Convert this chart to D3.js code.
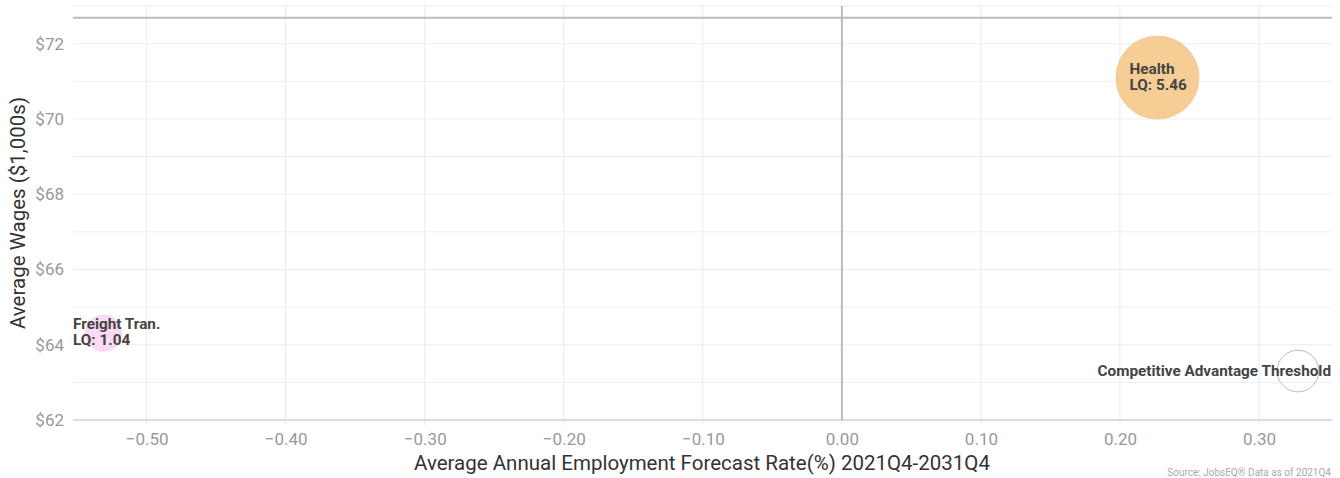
<!DOCTYPE html>
<html><head><meta charset="utf-8">
<script src="https://cdn.jsdelivr.net/npm/d3@7/dist/d3.min.js"></script>
<style>body{margin:0;background:#fff;font-family:Roboto,sans-serif;}</style>
</head><body><svg id="c" width="1340" height="478"></svg>
<script>
const names = ["Health", "Freight Tran."];
const growth = [0.227, -0.531];
const wages = [71.1, 64.31];
const lq = [5.46, 1.04];
const colors = ["#f5c98a", "#fbd6f4"];
const threshold = {label: "Competitive Advantage Threshold", x: 0.328, y: 63.3, lq: 1};
const avgWage = 72.69;
const xTicks = [-0.5, -0.4, -0.3, -0.2, -0.1, 0, 0.1, 0.2, 0.3];
const yTicks = [62, 64, 66, 68, 70, 72];
const yMinor = [63, 65, 67, 69, 71, 73];

const svg = d3.select("#c");
const L = 73, R = 1332, T = 6, B = 420;
const x = d3.scaleLinear().domain([-0.553, 0.3525]).range([L, R]);
const y = d3.scaleLinear().domain([62, 73]).range([B, T]);
const r = d3.scaleSqrt().domain([0, 1]).range([0, 17.8]);

svg.append("g").selectAll("line").data(yTicks.concat(yMinor)).join("line")
  .attr("x1", L).attr("x2", R).attr("y1", d => y(d)).attr("y2", d => y(d))
  .attr("stroke", "#eeeeee").attr("stroke-width", 1);
svg.append("g").selectAll("line").data(xTicks).join("line")
  .attr("x1", d => x(d)).attr("x2", d => x(d)).attr("y1", T).attr("y2", B + 5)
  .attr("stroke", "#e8eaf2").attr("stroke-width", 1);

const xa = svg.append("g").attr("transform", `translate(0,${B})`)
  .call(d3.axisBottom(x).tickValues(xTicks).tickFormat(d3.format(".2f")).tickSize(0).tickPadding(13));
xa.select(".domain").remove();
xa.selectAll("text").attr("fill", "#999").style("font-size", "17px").style("font-family", "Roboto");
svg.append("line").attr("x1", L).attr("x2", R).attr("y1", B).attr("y2", B)
  .attr("stroke", "#d6daea").attr("stroke-width", 2);

const ya = svg.append("g").attr("transform", `translate(${L},0)`)
  .call(d3.axisLeft(y).tickValues(yTicks).tickFormat(d => "$" + d).tickSize(0).tickPadding(9));
ya.select(".domain").remove();
ya.selectAll("text").attr("fill", "#999").style("font-size", "17px").style("font-family", "Roboto");

svg.append("line").attr("x1", x(0)).attr("x2", x(0)).attr("y1", T).attr("y2", B)
  .attr("stroke", "#bbbbbb").attr("stroke-width", 2);
svg.append("line").attr("x1", L).attr("x2", R).attr("y1", y(avgWage)).attr("y2", y(avgWage))
  .attr("stroke", "#bbbbbb").attr("stroke-width", 2);

const data = names.map((n, i) => ({n, gx: growth[i], w: wages[i], lq: lq[i], c: colors[i]}));
svg.append("g").selectAll("circle").data(data).join("circle")
  .attr("cx", d => x(d.gx)).attr("cy", d => y(d.w)).attr("r", d => r(d.lq))
  .attr("fill", d => d.c).attr("fill-opacity", 0.9)
  .attr("stroke", d => d3.color(d.c).darker(0.2)).attr("stroke-opacity", 0.5);

svg.append("circle").attr("cx", x(threshold.x)).attr("cy", y(threshold.y)).attr("r", r(threshold.lq) + 3)
  .attr("fill", "none").attr("stroke", "#bbb").attr("stroke-width", 1);

const lab = svg.append("g").style("font-family", "Roboto").style("font-weight", "bold")
  .style("font-size", "15.3px").attr("fill", "#444");
data.forEach(d => {
  let tx = d.n === "Health" ? x(d.gx) - 28 : L;
  const t = lab.append("text").attr("x", tx).attr("y", y(d.w) - 4);
  t.append("tspan").attr("x", tx).text(d.n);
  t.append("tspan").attr("x", tx).attr("dy", 16).text("LQ: " + d.lq.toFixed(2));
});
lab.append("text").attr("x", R - 1).attr("y", y(threshold.y) + 5).attr("text-anchor", "end")
  .text(threshold.label);

svg.append("text").attr("x", 702).attr("y", 470).attr("text-anchor", "middle")
  .style("font-family", "Roboto").style("font-size", "20.5px").attr("fill", "#333")
  .text("Average Annual Employment Forecast Rate(%) 2021Q4-2031Q4");
svg.append("text").attr("transform", `translate(25,${213}) rotate(-90)`).attr("text-anchor", "middle")
  .style("font-family", "Roboto").style("font-size", "20.5px").attr("fill", "#333")
  .text("Average Wages ($1,000s)");
svg.append("text").attr("x", 1331).attr("y", 476).attr("text-anchor", "end")
  .style("font-family", "Roboto").style("font-size", "10px").attr("fill", "#aaa")
  .text("Source: JobsEQ® Data as of 2021Q4");
</script></body></html>
